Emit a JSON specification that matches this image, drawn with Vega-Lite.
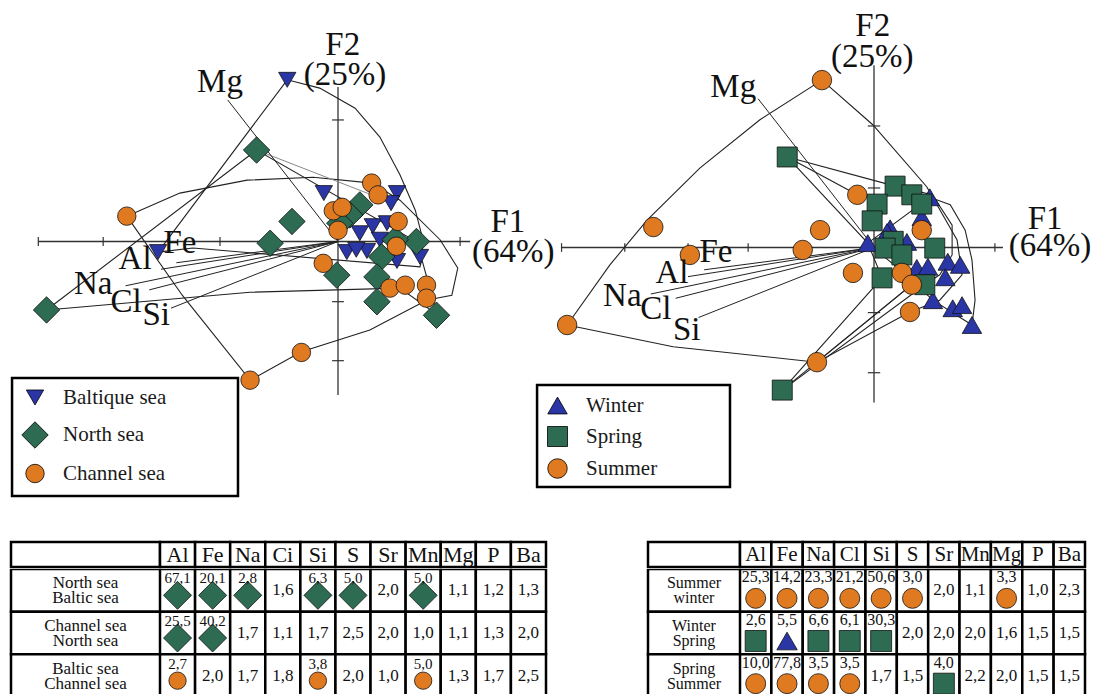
{
"$schema": "https://vega.github.io/schema/vega-lite/v6.json",
"padding": 0,
"background": "white",
"spacing": 40,
"config": {"view": {"stroke": null}, "concat": {"spacing": 0}, "legend": {"labelFont": "Liberation Serif", "labelFontSize": 21, "labelColor": "#1a1a1a"}},
"resolve": {"scale": {"color": "independent", "shape": "independent", "size": "independent"}, "legend": {"color": "independent", "shape": "independent", "size": "independent"}},
"datasets": {
"vec": [
{"v": "Mg", "x": -1.87, "y": 2.40}, {"v": "Fe", "x": -2.74, "y": -0.36}, {"v": "Al", "x": -3.0, "y": -0.47},
{"v": "Na", "x": -3.6, "y": -0.75}, {"v": "Cl", "x": -3.2, "y": -0.82}, {"v": "Si", "x": -2.83, "y": -1.13}
],
"labL": [
{"t": "Mg", "x": -2.0, "y": 2.70}, {"t": "Fe", "x": -2.68, "y": -0.03}, {"t": "Al", "x": -3.44, "y": -0.30},
{"t": "Na", "x": -4.15, "y": -0.72}, {"t": "Cl", "x": -3.59, "y": -1.03}, {"t": "Si", "x": -3.08, "y": -1.25},
{"t": "F2", "x": 0.08, "y": 3.33}, {"t": "(25%)", "x": 0.12, "y": 2.82}, {"t": "F1", "x": 2.88, "y": 0.33}, {"t": "(64%)", "x": 2.97, "y": -0.18}
],
"labR": [
{"t": "Mg", "x": -2.27, "y": 2.59}, {"t": "Fe", "x": -2.55, "y": -0.07}, {"t": "Al", "x": -3.26, "y": -0.41},
{"t": "Na", "x": -4.06, "y": -0.78}, {"t": "Cl", "x": -3.52, "y": -0.99}, {"t": "Si", "x": -3.02, "y": -1.33},
{"t": "F2", "x": -0.02, "y": 3.58}, {"t": "(25%)", "x": -0.03, "y": 3.07}, {"t": "F1", "x": 2.76, "y": 0.46}, {"t": "(64%)", "x": 2.84, "y": 0.03}
],
"ptsL": [
{"g": "Baltique sea", "x": -0.86, "y": 2.74}, {"g": "Baltique sea", "x": -3.05, "y": -0.18}, {"g": "Baltique sea", "x": -0.24, "y": 0.82},
{"g": "Baltique sea", "x": 1.00, "y": 0.82}, {"g": "Baltique sea", "x": 0.90, "y": 0.65}, {"g": "Baltique sea", "x": 0.37, "y": 0.14},
{"g": "Baltique sea", "x": 0.59, "y": 0.26}, {"g": "Baltique sea", "x": 0.83, "y": 0.31}, {"g": "Baltique sea", "x": 0.15, "y": -0.18},
{"g": "Baltique sea", "x": 0.49, "y": -0.16}, {"g": "Baltique sea", "x": 1.39, "y": -0.26}, {"g": "Baltique sea", "x": 1.00, "y": -0.33},
{"g": "Baltique sea", "x": 0.31, "y": -0.14}, {"g": "Baltique sea", "x": 0.71, "y": 0.03},
{"g": "North sea", "x": -1.38, "y": 1.55}, {"g": "North sea", "x": -0.78, "y": 0.34}, {"g": "North sea", "x": -1.15, "y": -0.03},
{"g": "North sea", "x": -4.94, "y": -1.16}, {"g": "North sea", "x": 0.37, "y": 0.62}, {"g": "North sea", "x": 0.20, "y": 0.45},
{"g": "North sea", "x": 0.03, "y": 0.31}, {"g": "North sea", "x": 1.33, "y": 0.00}, {"g": "North sea", "x": 0.74, "y": -0.26},
{"g": "North sea", "x": -0.02, "y": -0.57}, {"g": "North sea", "x": 0.66, "y": -0.60}, {"g": "North sea", "x": 0.66, "y": -1.02},
{"g": "North sea", "x": 1.67, "y": -1.25}, {"g": "North sea", "x": 0.97, "y": 0.03},
{"g": "Channel sea", "x": -3.58, "y": 0.43}, {"g": "Channel sea", "x": 0.57, "y": 0.99}, {"g": "Channel sea", "x": 0.68, "y": 0.79},
{"g": "Channel sea", "x": -0.08, "y": 0.52}, {"g": "Channel sea", "x": 0.07, "y": 0.58}, {"g": "Channel sea", "x": 1.02, "y": 0.34},
{"g": "Channel sea", "x": 0.99, "y": -0.08}, {"g": "Channel sea", "x": 0.0, "y": 0.19}, {"g": "Channel sea", "x": -0.25, "y": -0.37},
{"g": "Channel sea", "x": 0.88, "y": -0.79}, {"g": "Channel sea", "x": 1.14, "y": -0.74}, {"g": "Channel sea", "x": 1.50, "y": -0.74},
{"g": "Channel sea", "x": 1.50, "y": -0.96}, {"g": "Channel sea", "x": -0.62, "y": -1.88}, {"g": "Channel sea", "x": -1.49, "y": -2.35}
],
"ptsR": [
{"g": "Winter", "x": 0.90, "y": 0.81}, {"g": "Winter", "x": 0.77, "y": 0.49}, {"g": "Winter", "x": 0.26, "y": 0.31},
{"g": "Winter", "x": -0.10, "y": 0.07}, {"g": "Winter", "x": 0.53, "y": 0.09}, {"g": "Winter", "x": 0.21, "y": 0.25},
{"g": "Winter", "x": 0.69, "y": -0.33}, {"g": "Winter", "x": 0.87, "y": -0.31}, {"g": "Winter", "x": 1.19, "y": -0.23},
{"g": "Winter", "x": 1.39, "y": -0.28}, {"g": "Winter", "x": 1.15, "y": -0.48}, {"g": "Winter", "x": 0.95, "y": -0.85},
{"g": "Winter", "x": 1.27, "y": -0.98}, {"g": "Winter", "x": 1.42, "y": -0.93}, {"g": "Winter", "x": 1.58, "y": -1.25},
{"g": "Spring", "x": -1.40, "y": 1.46}, {"g": "Spring", "x": 0.34, "y": 0.99}, {"g": "Spring", "x": 0.61, "y": 0.85},
{"g": "Spring", "x": 0.77, "y": 0.70}, {"g": "Spring", "x": 0.05, "y": 0.70}, {"g": "Spring", "x": -0.03, "y": 0.43},
{"g": "Spring", "x": 0.31, "y": 0.10}, {"g": "Spring", "x": 0.18, "y": -0.01}, {"g": "Spring", "x": 0.45, "y": -0.12},
{"g": "Spring", "x": 0.98, "y": -0.01}, {"g": "Spring", "x": 0.13, "y": -0.49}, {"g": "Spring", "x": 0.82, "y": -0.60},
{"g": "Spring", "x": -1.48, "y": -2.30},
{"g": "Summer", "x": -0.84, "y": 2.70}, {"g": "Summer", "x": -0.27, "y": 0.85}, {"g": "Summer", "x": 0.77, "y": 0.28},
{"g": "Summer", "x": -3.56, "y": 0.33}, {"g": "Summer", "x": -2.97, "y": -0.12}, {"g": "Summer", "x": -0.87, "y": 0.28},
{"g": "Summer", "x": -1.15, "y": -0.04}, {"g": "Summer", "x": -0.34, "y": -0.41}, {"g": "Summer", "x": 0.45, "y": -0.41},
{"g": "Summer", "x": 0.61, "y": -0.60}, {"g": "Summer", "x": 0.58, "y": -1.04}, {"g": "Summer", "x": -0.92, "y": -1.85},
{"g": "Summer", "x": -4.95, "y": -1.25}
],
"hullL": [
{"p": "baltic", "o": 0, "x": -3.05, "y": -0.18}, {"p": "baltic", "o": 1, "x": -0.86, "y": 2.74}, {"p": "baltic", "o": 2, "x": -0.31, "y": 2.60},
{"p": "baltic", "o": 3, "x": 0.29, "y": 2.26}, {"p": "baltic", "o": 4, "x": 0.71, "y": 1.77}, {"p": "baltic", "o": 5, "x": 1.05, "y": 1.13},
{"p": "baltic", "o": 6, "x": 1.31, "y": 0.53}, {"p": "baltic", "o": 7, "x": 1.44, "y": 0.03}, {"p": "baltic", "o": 8, "x": 1.41, "y": -0.35},
{"p": "baltic", "o": 9, "x": 1.39, "y": -0.43}, {"p": "baltic", "o": 10, "x": -2.46, "y": -0.11}, {"p": "baltic", "o": 11, "x": -3.05, "y": -0.18},
{"p": "north", "o": 0, "x": -4.94, "y": -1.16}, {"p": "north", "o": 1, "x": -1.38, "y": 1.55}, {"p": "north", "o": 2, "x": 1.34, "y": -0.01},
{"p": "north", "o": 3, "x": 1.68, "y": -1.24}, {"p": "north", "o": 4, "x": 1.05, "y": -0.79}, {"p": "north", "o": 5, "x": -1.49, "y": -0.86},
{"p": "north", "o": 6, "x": -4.94, "y": -1.16},
{"p": "channel", "o": 0, "x": -3.58, "y": 0.43}, {"p": "channel", "o": 1, "x": -2.68, "y": 0.82}, {"p": "channel", "o": 2, "x": -1.54, "y": 1.04},
{"p": "channel", "o": 3, "x": -0.42, "y": 1.09}, {"p": "channel", "o": 4, "x": 0.58, "y": 0.99}, {"p": "channel", "o": 5, "x": 1.05, "y": 0.70},
{"p": "channel", "o": 6, "x": 1.73, "y": 0.03}, {"p": "channel", "o": 7, "x": 2.03, "y": -0.45}, {"p": "channel", "o": 8, "x": 1.93, "y": -0.91},
{"p": "channel", "o": 9, "x": 1.51, "y": -0.99}, {"p": "channel", "o": 10, "x": 0.54, "y": -1.50}, {"p": "channel", "o": 11, "x": -0.62, "y": -1.87},
{"p": "channel", "o": 12, "x": -1.49, "y": -2.35}, {"p": "channel", "o": 13, "x": -2.64, "y": -0.91}, {"p": "channel", "o": 14, "x": -3.58, "y": 0.43},
{"p": "extra", "o": 0, "x": -1.38, "y": 1.55}, {"p": "extra", "o": 1, "x": 0.93, "y": 0.65}
],
"hullR": [
{"p": "summer", "o": 0, "x": -4.95, "y": -1.25}, {"p": "summer", "o": 1, "x": -4.26, "y": -0.28}, {"p": "summer", "o": 2, "x": -3.66, "y": 0.44},
{"p": "summer", "o": 3, "x": -2.81, "y": 1.28}, {"p": "summer", "o": 4, "x": -1.84, "y": 2.06}, {"p": "summer", "o": 5, "x": -0.84, "y": 2.70},
{"p": "summer", "o": 6, "x": -0.02, "y": 1.98}, {"p": "summer", "o": 7, "x": 0.85, "y": 0.98}, {"p": "summer", "o": 8, "x": 1.34, "y": 0.12},
{"p": "summer", "o": 9, "x": 1.42, "y": -0.44}, {"p": "summer", "o": 10, "x": 1.06, "y": -0.85}, {"p": "summer", "o": 11, "x": 0.58, "y": -1.04},
{"p": "summer", "o": 12, "x": -0.92, "y": -1.85}, {"p": "summer", "o": 13, "x": -3.24, "y": -1.60}, {"p": "summer", "o": 14, "x": -4.95, "y": -1.25},
{"p": "winter", "o": 0, "x": -0.10, "y": 0.07}, {"p": "winter", "o": 1, "x": 0.90, "y": 0.81}, {"p": "winter", "o": 2, "x": 1.23, "y": 0.69},
{"p": "winter", "o": 3, "x": 1.47, "y": 0.28}, {"p": "winter", "o": 4, "x": 1.58, "y": -0.20}, {"p": "winter", "o": 5, "x": 1.63, "y": -0.85},
{"p": "winter", "o": 6, "x": 1.58, "y": -1.25}, {"p": "winter", "o": 7, "x": 0.95, "y": -0.85}, {"p": "winter", "o": 8, "x": 0.42, "y": -0.36},
{"p": "winter", "o": 9, "x": -0.10, "y": 0.07},
{"p": "spring", "o": 0, "x": -1.40, "y": 1.46}, {"p": "spring", "o": 1, "x": 0.34, "y": 0.99}, {"p": "spring", "o": 2, "x": 0.94, "y": 0.85},
{"p": "spring", "o": 3, "x": 1.26, "y": 0.36}, {"p": "spring", "o": 4, "x": 1.26, "y": -0.12}, {"p": "spring", "o": 5, "x": 1.06, "y": -0.44},
{"p": "spring", "o": 6, "x": 0.82, "y": -0.60}, {"p": "spring", "o": 7, "x": -1.48, "y": -2.30}, {"p": "spring", "o": 8, "x": 0.13, "y": -0.49},
{"p": "spring", "o": 9, "x": -0.10, "y": 0.07}, {"p": "spring", "o": 10, "x": -1.40, "y": 1.46},
{"p": "e1", "o": 0, "x": -1.40, "y": 1.46}, {"p": "e1", "o": 1, "x": -0.27, "y": 0.85},
{"p": "e2", "o": 0, "x": -0.92, "y": -1.85}, {"p": "e2", "o": 1, "x": 0.61, "y": -0.60},
{"p": "e3", "o": 0, "x": -1.48, "y": -2.30}, {"p": "e3", "o": 1, "x": 0.61, "y": -0.60}
],
"hdrL": [
{"c": "Al", "r": "h"}, {"c": "Fe", "r": "h"}, {"c": "Na", "r": "h"}, {"c": "Ci", "r": "h"}, {"c": "Si", "r": "h"}, {"c": "S", "r": "h"},
{"c": "Sr", "r": "h"}, {"c": "Mn", "r": "h"}, {"c": "Mg", "r": "h"}, {"c": "P", "r": "h"}, {"c": "Ba", "r": "h"}
],
"hdrR": [
{"c": "Al", "r": "h"}, {"c": "Fe", "r": "h"}, {"c": "Na", "r": "h"}, {"c": "Cl", "r": "h"}, {"c": "Si", "r": "h"}, {"c": "S", "r": "h"},
{"c": "Sr", "r": "h"}, {"c": "Mn", "r": "h"}, {"c": "Mg", "r": "h"}, {"c": "P", "r": "h"}, {"c": "Ba", "r": "h"}
],
"rowL": [
{"c": "lab", "row": "r1", "lab": "North sea\nBaltic sea"},
{"c": "lab", "row": "r2", "lab": "Channel sea\nNorth sea"},
{"c": "lab", "row": "r3", "lab": "Baltic sea\nChannel sea"}
],
"rowR": [
{"c": "lab", "row": "r1", "lab": "Summer\nwinter"},
{"c": "lab", "row": "r2", "lab": "Winter\nSpring"},
{"c": "lab", "row": "r3", "lab": "Spring\nSummer"}
],
"tblL": [
{"row": "r1", "col": "Al", "val": "67,1", "sym": "North sea"}, {"row": "r1", "col": "Fe", "val": "20,1", "sym": "North sea"},
{"row": "r1", "col": "Na", "val": "2,8", "sym": "North sea"}, {"row": "r1", "col": "Ci", "val": "1,6"},
{"row": "r1", "col": "Si", "val": "6,3", "sym": "North sea"}, {"row": "r1", "col": "S", "val": "5,0", "sym": "North sea"},
{"row": "r1", "col": "Sr", "val": "2,0"}, {"row": "r1", "col": "Mn", "val": "5,0", "sym": "North sea"},
{"row": "r1", "col": "Mg", "val": "1,1"}, {"row": "r1", "col": "P", "val": "1,2"}, {"row": "r1", "col": "Ba", "val": "1,3"},
{"row": "r2", "col": "Al", "val": "25,5", "sym": "North sea"}, {"row": "r2", "col": "Fe", "val": "40,2", "sym": "North sea"},
{"row": "r2", "col": "Na", "val": "1,7"}, {"row": "r2", "col": "Ci", "val": "1,1"}, {"row": "r2", "col": "Si", "val": "1,7"},
{"row": "r2", "col": "S", "val": "2,5"}, {"row": "r2", "col": "Sr", "val": "2,0"}, {"row": "r2", "col": "Mn", "val": "1,0"},
{"row": "r2", "col": "Mg", "val": "1,1"}, {"row": "r2", "col": "P", "val": "1,3"}, {"row": "r2", "col": "Ba", "val": "2,0"},
{"row": "r3", "col": "Al", "val": "2,7", "sym": "Channel sea"}, {"row": "r3", "col": "Fe", "val": "2,0"},
{"row": "r3", "col": "Na", "val": "1,7"}, {"row": "r3", "col": "Ci", "val": "1,8"},
{"row": "r3", "col": "Si", "val": "3,8", "sym": "Channel sea"}, {"row": "r3", "col": "S", "val": "2,0"},
{"row": "r3", "col": "Sr", "val": "1,0"}, {"row": "r3", "col": "Mn", "val": "5,0", "sym": "Channel sea"},
{"row": "r3", "col": "Mg", "val": "1,3"}, {"row": "r3", "col": "P", "val": "1,7"}, {"row": "r3", "col": "Ba", "val": "2,5"}
],
"tblR": [
{"row": "r1", "col": "Al", "val": "25,3", "sym": "Summer"}, {"row": "r1", "col": "Fe", "val": "14,2", "sym": "Summer"},
{"row": "r1", "col": "Na", "val": "23,3", "sym": "Summer"}, {"row": "r1", "col": "Cl", "val": "21,2", "sym": "Summer"},
{"row": "r1", "col": "Si", "val": "50,6", "sym": "Summer"}, {"row": "r1", "col": "S", "val": "3,0", "sym": "Summer"},
{"row": "r1", "col": "Sr", "val": "2,0"}, {"row": "r1", "col": "Mn", "val": "1,1"},
{"row": "r1", "col": "Mg", "val": "3,3", "sym": "Summer"}, {"row": "r1", "col": "P", "val": "1,0"}, {"row": "r1", "col": "Ba", "val": "2,3"},
{"row": "r2", "col": "Al", "val": "2,6", "sym": "Spring"}, {"row": "r2", "col": "Fe", "val": "5,5", "sym": "Winter"},
{"row": "r2", "col": "Na", "val": "6,6", "sym": "Spring"}, {"row": "r2", "col": "Cl", "val": "6,1", "sym": "Spring"},
{"row": "r2", "col": "Si", "val": "30,3", "sym": "Spring"}, {"row": "r2", "col": "S", "val": "2,0"},
{"row": "r2", "col": "Sr", "val": "2,0"}, {"row": "r2", "col": "Mn", "val": "2,0"}, {"row": "r2", "col": "Mg", "val": "1,6"},
{"row": "r2", "col": "P", "val": "1,5"}, {"row": "r2", "col": "Ba", "val": "1,5"},
{"row": "r3", "col": "Al", "val": "10,0", "sym": "Summer"}, {"row": "r3", "col": "Fe", "val": "77,8", "sym": "Summer"},
{"row": "r3", "col": "Na", "val": "3,5", "sym": "Summer"}, {"row": "r3", "col": "Cl", "val": "3,5", "sym": "Summer"},
{"row": "r3", "col": "Si", "val": "1,7"}, {"row": "r3", "col": "S", "val": "1,5"},
{"row": "r3", "col": "Sr", "val": "4,0", "sym": "Spring"}, {"row": "r3", "col": "Mn", "val": "2,2"},
{"row": "r3", "col": "Mg", "val": "2,0"}, {"row": "r3", "col": "P", "val": "1,5"}, {"row": "r3", "col": "Ba", "val": "1,5"}
]
},
"vconcat": [
{
"hconcat": [
{
"width": 560, "height": 500,
"layer": [
{"data": {"values": [{"k": 0}]}, "mark": {"type": "rule", "color": "#333", "strokeWidth": 1.3},
"encoding": {"x": {"datum": -5.08, "type": "quantitative", "scale": {"domain": [-5.729, 3.763], "nice": false, "zero": false}, "axis": null}, "x2": {"datum": 2.24}, "y": {"datum": 0, "type": "quantitative", "scale": {"domain": [-4.381, 4.093], "nice": false, "zero": false}, "axis": null}}},
{"data": {"values": [{"k": 0}]}, "mark": {"type": "rule", "color": "#333", "strokeWidth": 1.3},
"encoding": {"x": {"datum": 0, "type": "quantitative", "scale": {"domain": [-5.729, 3.763], "nice": false, "zero": false}, "axis": null}, "y": {"datum": 2.62, "type": "quantitative", "scale": {"domain": [-4.381, 4.093], "nice": false, "zero": false}, "axis": null}, "y2": {"datum": -2.6}}},
{"data": {"values": [{"v": -5.08}, {"v": -3.98}, {"v": -2.0}, {"v": 2.07}]}, "mark": {"type": "rule", "color": "#333", "strokeWidth": 1.2},
"encoding": {"x": {"field": "v", "type": "quantitative", "scale": {"domain": [-5.729, 3.763], "nice": false, "zero": false}, "axis": null}, "y": {"datum": -0.075, "type": "quantitative", "scale": {"domain": [-4.381, 4.093], "nice": false, "zero": false}, "axis": null}, "y2": {"datum": 0.075}}},
{"data": {"values": [{"v": 2.06}, {"v": -1.02}, {"v": -2.02}]}, "mark": {"type": "rule", "color": "#333", "strokeWidth": 1.2},
"encoding": {"y": {"field": "v", "type": "quantitative", "scale": {"domain": [-4.381, 4.093], "nice": false, "zero": false}, "axis": null}, "x": {"datum": -0.1, "type": "quantitative", "scale": {"domain": [-5.729, 3.763], "nice": false, "zero": false}, "axis": null}, "x2": {"datum": 0.1}}},
{"data": {"name": "hullL"}, "transform": [{"filter": {"field": "p", "oneOf": ["baltic", "north", "channel"]}}], "mark": {"type": "line", "color": "#222", "strokeWidth": 1.1},
"encoding": {"x": {"field": "x", "type": "quantitative", "scale": {"domain": [-5.729, 3.763], "nice": false, "zero": false}, "axis": null}, "y": {"field": "y", "type": "quantitative", "scale": {"domain": [-4.381, 4.093], "nice": false, "zero": false}, "axis": null}, "detail": {"field": "p"}, "order": {"field": "o", "type": "quantitative"}}},
{"data": {"name": "hullL"}, "transform": [{"filter": {"field": "p", "equal": "extra"}}], "mark": {"type": "line", "color": "#888", "strokeWidth": 1},
"encoding": {"x": {"field": "x", "type": "quantitative", "scale": {"domain": [-5.729, 3.763], "nice": false, "zero": false}, "axis": null}, "y": {"field": "y", "type": "quantitative", "scale": {"domain": [-4.381, 4.093], "nice": false, "zero": false}, "axis": null}, "detail": {"field": "p"}, "order": {"field": "o", "type": "quantitative"}}},
{"data": {"name": "vec"}, "mark": {"type": "rule", "color": "#222", "strokeWidth": 1},
"encoding": {"x": {"field": "x", "type": "quantitative", "scale": {"domain": [-5.729, 3.763], "nice": false, "zero": false}, "axis": null}, "y": {"field": "y", "type": "quantitative", "scale": {"domain": [-4.381, 4.093], "nice": false, "zero": false}, "axis": null}, "x2": {"datum": 0}, "y2": {"datum": 0}}},
{"data": {"values": [{"k": 0}]}, "mark": {"type": "rect", "fill": "white", "stroke": "#000", "strokeWidth": 2.5},
"encoding": {"x": {"datum": -5.525, "type": "quantitative", "scale": {"domain": [-5.729, 3.763], "nice": false, "zero": false}, "axis": null}, "x2": {"datum": -1.695}, "y": {"datum": -2.314, "type": "quantitative", "scale": {"domain": [-4.381, 4.093], "nice": false, "zero": false}, "axis": null}, "y2": {"datum": -4.314}}},
{"data": {"name": "ptsL"}, "mark": {"type": "point", "filled": true, "stroke": "#111", "strokeWidth": 0.8, "opacity": 1},
"encoding": {
"x": {"field": "x", "type": "quantitative", "scale": {"domain": [-5.729, 3.763], "nice": false, "zero": false}, "axis": null},
"y": {"field": "y", "type": "quantitative", "scale": {"domain": [-4.381, 4.093], "nice": false, "zero": false}, "axis": null},
"color": {"field": "g", "type": "nominal", "scale": {"domain": ["Baltique sea", "North sea", "Channel sea"], "range": ["#2b36a6", "#2d6b52", "#df7a21"]},
"legend": {"orient": "none", "legendX": 12, "legendY": 378, "title": null, "padding": 9, "labelFont": "Liberation Serif", "labelFontSize": 21, "labelColor": "#1a1a1a", "labelOffset": 14, "rowPadding": 12, "labelLimit": 500, "symbolStrokeColor": "#000", "symbolStrokeWidth": 0.8}},
"shape": {"field": "g", "type": "nominal", "scale": {"domain": ["Baltique sea", "North sea", "Channel sea"], "range": ["triangle-down", "diamond", "circle"]},
"legend": {"orient": "none", "legendX": 12, "legendY": 378, "title": null, "padding": 9, "labelFont": "Liberation Serif", "labelFontSize": 21, "labelColor": "#1a1a1a", "labelOffset": 14, "rowPadding": 12, "labelLimit": 500, "symbolStrokeColor": "#000", "symbolStrokeWidth": 0.8}},
"size": {"field": "g", "type": "nominal", "scale": {"type": "ordinal", "domain": ["Baltique sea", "North sea", "Channel sea"], "range": [300, 700, 340]},
"legend": {"orient": "none", "legendX": 12, "legendY": 378, "title": null, "padding": 9, "labelFont": "Liberation Serif", "labelFontSize": 21, "labelColor": "#1a1a1a", "labelOffset": 14, "rowPadding": 12, "labelLimit": 500, "symbolStrokeColor": "#000", "symbolStrokeWidth": 0.8}}
}},
{"data": {"name": "labL"}, "mark": {"type": "text", "font": "Liberation Serif", "fontSize": 33, "color": "#111", "align": "center", "baseline": "middle"},
"encoding": {"x": {"field": "x", "type": "quantitative", "scale": {"domain": [-5.729, 3.763], "nice": false, "zero": false}, "axis": null}, "y": {"field": "y", "type": "quantitative", "scale": {"domain": [-4.381, 4.093], "nice": false, "zero": false}, "axis": null}, "text": {"field": "t"}}}
]
},
{
"width": 545, "height": 500,
"layer": [
{"data": {"values": [{"k": 0}]}, "mark": {"type": "rule", "color": "#333", "strokeWidth": 1.3},
"encoding": {"x": {"datum": -5.05, "type": "quantitative", "scale": {"domain": [-5.065, 3.726], "nice": false, "zero": false}, "axis": null}, "x2": {"datum": 2.08}, "y": {"datum": 0, "type": "quantitative", "scale": {"domain": [-4.073, 3.992], "nice": false, "zero": false}, "axis": null}}},
{"data": {"values": [{"k": 0}]}, "mark": {"type": "rule", "color": "#333", "strokeWidth": 1.3},
"encoding": {"x": {"datum": 0, "type": "quantitative", "scale": {"domain": [-5.065, 3.726], "nice": false, "zero": false}, "axis": null}, "y": {"datum": 2.94, "type": "quantitative", "scale": {"domain": [-4.073, 3.992], "nice": false, "zero": false}, "axis": null}, "y2": {"datum": -2.5}}},
{"data": {"values": [{"v": -5.04}, {"v": -4.02}, {"v": -3.0}, {"v": -2.03}, {"v": 1.95}]}, "mark": {"type": "rule", "color": "#333", "strokeWidth": 1.2},
"encoding": {"x": {"field": "v", "type": "quantitative", "scale": {"domain": [-5.065, 3.726], "nice": false, "zero": false}, "axis": null}, "y": {"datum": -0.07, "type": "quantitative", "scale": {"domain": [-4.073, 3.992], "nice": false, "zero": false}, "axis": null}, "y2": {"datum": 0.07}}},
{"data": {"values": [{"v": 1.96}, {"v": 0.96}, {"v": -1.05}, {"v": -2.02}]}, "mark": {"type": "rule", "color": "#333", "strokeWidth": 1.2},
"encoding": {"y": {"field": "v", "type": "quantitative", "scale": {"domain": [-4.073, 3.992], "nice": false, "zero": false}, "axis": null}, "x": {"datum": -0.1, "type": "quantitative", "scale": {"domain": [-5.065, 3.726], "nice": false, "zero": false}, "axis": null}, "x2": {"datum": 0.1}}},
{"data": {"name": "hullR"}, "mark": {"type": "line", "color": "#222", "strokeWidth": 1.1},
"encoding": {"x": {"field": "x", "type": "quantitative", "scale": {"domain": [-5.065, 3.726], "nice": false, "zero": false}, "axis": null}, "y": {"field": "y", "type": "quantitative", "scale": {"domain": [-4.073, 3.992], "nice": false, "zero": false}, "axis": null}, "detail": {"field": "p"}, "order": {"field": "o", "type": "quantitative"}}},
{"data": {"name": "vec"}, "mark": {"type": "rule", "color": "#222", "strokeWidth": 1},
"encoding": {"x": {"field": "x", "type": "quantitative", "scale": {"domain": [-5.065, 3.726], "nice": false, "zero": false}, "axis": null}, "y": {"field": "y", "type": "quantitative", "scale": {"domain": [-4.073, 3.992], "nice": false, "zero": false}, "axis": null}, "x2": {"datum": 0}, "y2": {"datum": 0}}},
{"data": {"values": [{"k": 0}]}, "mark": {"type": "rect", "fill": "white", "stroke": "#000", "strokeWidth": 2.5},
"encoding": {"x": {"datum": -5.435, "type": "quantitative", "scale": {"domain": [-5.065, 3.726], "nice": false, "zero": false}, "axis": null}, "x2": {"datum": -2.323}, "y": {"datum": -2.218, "type": "quantitative", "scale": {"domain": [-4.073, 3.992], "nice": false, "zero": false}, "axis": null}, "y2": {"datum": -3.863}}},
{"data": {"name": "ptsR"}, "mark": {"type": "point", "filled": true, "stroke": "#111", "strokeWidth": 0.8, "opacity": 1},
"encoding": {
"x": {"field": "x", "type": "quantitative", "scale": {"domain": [-5.065, 3.726], "nice": false, "zero": false}, "axis": null},
"y": {"field": "y", "type": "quantitative", "scale": {"domain": [-4.073, 3.992], "nice": false, "zero": false}, "axis": null},
"color": {"field": "g", "type": "nominal", "scale": {"domain": ["Winter", "Spring", "Summer"], "range": ["#2b36a6", "#2d6b52", "#df7a21"]},
"legend": {"orient": "none", "legendX": -23, "legendY": 385, "title": null, "padding": 10, "labelFont": "Liberation Serif", "labelFontSize": 21, "labelColor": "#1a1a1a", "labelOffset": 18, "rowPadding": 8, "labelLimit": 500, "symbolStrokeColor": "#000", "symbolStrokeWidth": 0.8}},
"shape": {"field": "g", "type": "nominal", "scale": {"domain": ["Winter", "Spring", "Summer"], "range": ["triangle-up", "square", "circle"]},
"legend": {"orient": "none", "legendX": -23, "legendY": 385, "title": null, "padding": 10, "labelFont": "Liberation Serif", "labelFontSize": 21, "labelColor": "#1a1a1a", "labelOffset": 18, "rowPadding": 8, "labelLimit": 500, "symbolStrokeColor": "#000", "symbolStrokeWidth": 0.8}},
"size": {"field": "g", "type": "nominal", "scale": {"type": "ordinal", "domain": ["Winter", "Spring", "Summer"], "range": [380, 400, 380]},
"legend": {"orient": "none", "legendX": -23, "legendY": 385, "title": null, "padding": 10, "labelFont": "Liberation Serif", "labelFontSize": 21, "labelColor": "#1a1a1a", "labelOffset": 18, "rowPadding": 8, "labelLimit": 500, "symbolStrokeColor": "#000", "symbolStrokeWidth": 0.8}}
}},
{"data": {"name": "labR"}, "mark": {"type": "text", "font": "Liberation Serif", "fontSize": 33, "color": "#111", "align": "center", "baseline": "middle"},
"encoding": {"x": {"field": "x", "type": "quantitative", "scale": {"domain": [-5.065, 3.726], "nice": false, "zero": false}, "axis": null}, "y": {"field": "y", "type": "quantitative", "scale": {"domain": [-4.073, 3.992], "nice": false, "zero": false}, "axis": null}, "text": {"field": "t"}}}
]
}
],
"spacing": 0, "bounds": "flush",
"resolve": {"scale": {"color": "independent", "shape": "independent", "size": "independent"}, "legend": {"color": "independent", "shape": "independent", "size": "independent"}}
},
{
"hconcat": [
{
"vconcat": [
{"hconcat": [
{"width": 160, "height": 25, "data": {"values": [{"c": "lab", "r": "h"}]}, "mark": {"type": "rect", "fill": "white", "stroke": "#000", "strokeWidth": 2.5},
"encoding": {"x": {"field": "c", "type": "nominal", "scale": {"range": [11, 160], "paddingInner": 0, "paddingOuter": 0}, "axis": null}, "y": {"field": "r", "type": "nominal", "scale": {"paddingInner": 0, "paddingOuter": 0}, "axis": null}}},
{"width": 386, "height": 25, "data": {"name": "hdrL"},
"encoding": {"x": {"field": "c", "type": "nominal", "sort": null, "scale": {"domain": ["Al", "Fe", "Na", "Ci", "Si", "S", "Sr", "Mn", "Mg", "P", "Ba"], "paddingInner": 0, "paddingOuter": 0}, "axis": null}, "y": {"field": "r", "type": "nominal", "scale": {"paddingInner": 0, "paddingOuter": 0}, "axis": null}},
"layer": [
{"mark": {"type": "rect", "fill": "white", "stroke": "#000", "strokeWidth": 2.5}},
{"mark": {"type": "text", "font": "Liberation Serif", "fontSize": 22, "color": "#111"}, "encoding": {"text": {"field": "c"}}}
]}
], "spacing": 0, "bounds": "flush"},
{"hconcat": [
{"width": 160, "height": 125, "data": {"name": "rowL"},
"encoding": {"x": {"field": "c", "type": "nominal", "scale": {"range": [11, 160], "paddingInner": 0, "paddingOuter": 0}, "axis": null}, "y": {"field": "row", "type": "nominal", "scale": {"domain": ["r1", "r2", "r3"], "range": [0, 128], "paddingInner": 0, "paddingOuter": 0}, "axis": null}},
"layer": [
{"mark": {"type": "rect", "fill": "white", "stroke": "#000", "strokeWidth": 2.5, "clip": true}},
{"mark": {"type": "text", "font": "Liberation Serif", "fontSize": 17, "lineBreak": "\n", "lineHeight": 15, "color": "#111", "dy": -7}, "encoding": {"text": {"field": "lab"}}}
]},
{"width": 388, "height": 125, "data": {"name": "tblL"},
"encoding": {"x": {"field": "col", "type": "nominal", "sort": null, "scale": {"domain": ["Al", "Fe", "Na", "Ci", "Si", "S", "Sr", "Mn", "Mg", "P", "Ba"], "range": [0, 386], "paddingInner": 0, "paddingOuter": 0}, "axis": null}, "y": {"field": "row", "type": "nominal", "scale": {"domain": ["r1", "r2", "r3"], "range": [0, 128], "paddingInner": 0, "paddingOuter": 0}, "axis": null}},
"layer": [
{"mark": {"type": "rect", "fill": "white", "stroke": "#000", "strokeWidth": 2.5, "clip": true}},
{"transform": [{"filter": "!isValid(datum.sym)"}], "mark": {"type": "text", "font": "Liberation Serif", "fontSize": 17, "color": "#111"}, "encoding": {"text": {"field": "val"}}},
{"transform": [{"filter": "isValid(datum.sym)"}], "mark": {"type": "point", "filled": true, "stroke": "#111", "strokeWidth": 0.8, "opacity": 1, "yOffset": 5},
"encoding": {
"color": {"field": "sym", "type": "nominal", "scale": {"domain": ["Baltique sea", "North sea", "Channel sea"], "range": ["#2b36a6", "#2d6b52", "#df7a21"]}, "legend": null},
"shape": {"field": "sym", "type": "nominal", "scale": {"domain": ["Baltique sea", "North sea", "Channel sea"], "range": ["triangle-down", "diamond", "circle"]}, "legend": null},
"size": {"field": "sym", "type": "nominal", "scale": {"type": "ordinal", "domain": ["Baltique sea", "North sea", "Channel sea"], "range": [300, 784, 300]}, "legend": null}
}},
{"transform": [{"filter": "isValid(datum.sym)"}], "mark": {"type": "text", "font": "Liberation Serif", "fontSize": 15, "color": "#111", "dy": -12}, "encoding": {"text": {"field": "val"}}}
]}
], "spacing": 0, "bounds": "flush"}
], "spacing": 0
},
{
"vconcat": [
{"hconcat": [
{"width": 94, "height": 25, "data": {"values": [{"c": "lab", "r": "h"}]}, "mark": {"type": "rect", "fill": "white", "stroke": "#000", "strokeWidth": 2.5},
"encoding": {"x": {"field": "c", "type": "nominal", "scale": {"range": [2, 94], "paddingInner": 0, "paddingOuter": 0}, "axis": null}, "y": {"field": "r", "type": "nominal", "scale": {"paddingInner": 0, "paddingOuter": 0}, "axis": null}}},
{"width": 345, "height": 25, "data": {"name": "hdrR"},
"encoding": {"x": {"field": "c", "type": "nominal", "sort": null, "scale": {"domain": ["Al", "Fe", "Na", "Cl", "Si", "S", "Sr", "Mn", "Mg", "P", "Ba"], "paddingInner": 0, "paddingOuter": 0}, "axis": null}, "y": {"field": "r", "type": "nominal", "scale": {"paddingInner": 0, "paddingOuter": 0}, "axis": null}},
"layer": [
{"mark": {"type": "rect", "fill": "white", "stroke": "#000", "strokeWidth": 2.5}},
{"mark": {"type": "text", "font": "Liberation Serif", "fontSize": 21, "color": "#111"}, "encoding": {"text": {"field": "c"}}}
]}
], "spacing": 0, "bounds": "flush"},
{"hconcat": [
{"width": 94, "height": 125, "data": {"name": "rowR"},
"encoding": {"x": {"field": "c", "type": "nominal", "scale": {"range": [2, 94], "paddingInner": 0, "paddingOuter": 0}, "axis": null}, "y": {"field": "row", "type": "nominal", "scale": {"domain": ["r1", "r2", "r3"], "range": [0, 128], "paddingInner": 0, "paddingOuter": 0}, "axis": null}},
"layer": [
{"mark": {"type": "rect", "fill": "white", "stroke": "#000", "strokeWidth": 2.5, "clip": true}},
{"mark": {"type": "text", "font": "Liberation Serif", "fontSize": 16, "lineBreak": "\n", "lineHeight": 15, "color": "#111", "dy": -7}, "encoding": {"text": {"field": "lab"}}}
]},
{"width": 347, "height": 125, "data": {"name": "tblR"},
"encoding": {"x": {"field": "col", "type": "nominal", "sort": null, "scale": {"domain": ["Al", "Fe", "Na", "Cl", "Si", "S", "Sr", "Mn", "Mg", "P", "Ba"], "range": [0, 345], "paddingInner": 0, "paddingOuter": 0}, "axis": null}, "y": {"field": "row", "type": "nominal", "scale": {"domain": ["r1", "r2", "r3"], "range": [0, 128], "paddingInner": 0, "paddingOuter": 0}, "axis": null}},
"layer": [
{"mark": {"type": "rect", "fill": "white", "stroke": "#000", "strokeWidth": 2.5, "clip": true}},
{"transform": [{"filter": "!isValid(datum.sym)"}], "mark": {"type": "text", "font": "Liberation Serif", "fontSize": 17, "color": "#111"}, "encoding": {"text": {"field": "val"}}},
{"transform": [{"filter": "isValid(datum.sym)"}], "mark": {"type": "point", "filled": true, "stroke": "#111", "strokeWidth": 0.8, "opacity": 1, "yOffset": 8},
"encoding": {
"color": {"field": "sym", "type": "nominal", "scale": {"domain": ["Winter", "Spring", "Summer"], "range": ["#2b36a6", "#2d6b52", "#df7a21"]}, "legend": null},
"shape": {"field": "sym", "type": "nominal", "scale": {"domain": ["Winter", "Spring", "Summer"], "range": ["triangle-up", "square", "circle"]}, "legend": null},
"size": {"field": "sym", "type": "nominal", "scale": {"type": "ordinal", "domain": ["Winter", "Spring", "Summer"], "range": [420, 440, 400]}, "legend": null}
}},
{"transform": [{"filter": "isValid(datum.sym)"}], "mark": {"type": "text", "font": "Liberation Serif", "fontSize": 16, "color": "#111", "dy": -13}, "encoding": {"text": {"field": "val"}}}
]}
], "spacing": 0, "bounds": "flush"}
], "spacing": 0
}
],
"spacing": 98,
"resolve": {"scale": {"color": "independent", "shape": "independent", "size": "independent"}, "legend": {"color": "independent", "shape": "independent", "size": "independent"}}
}
]
}
